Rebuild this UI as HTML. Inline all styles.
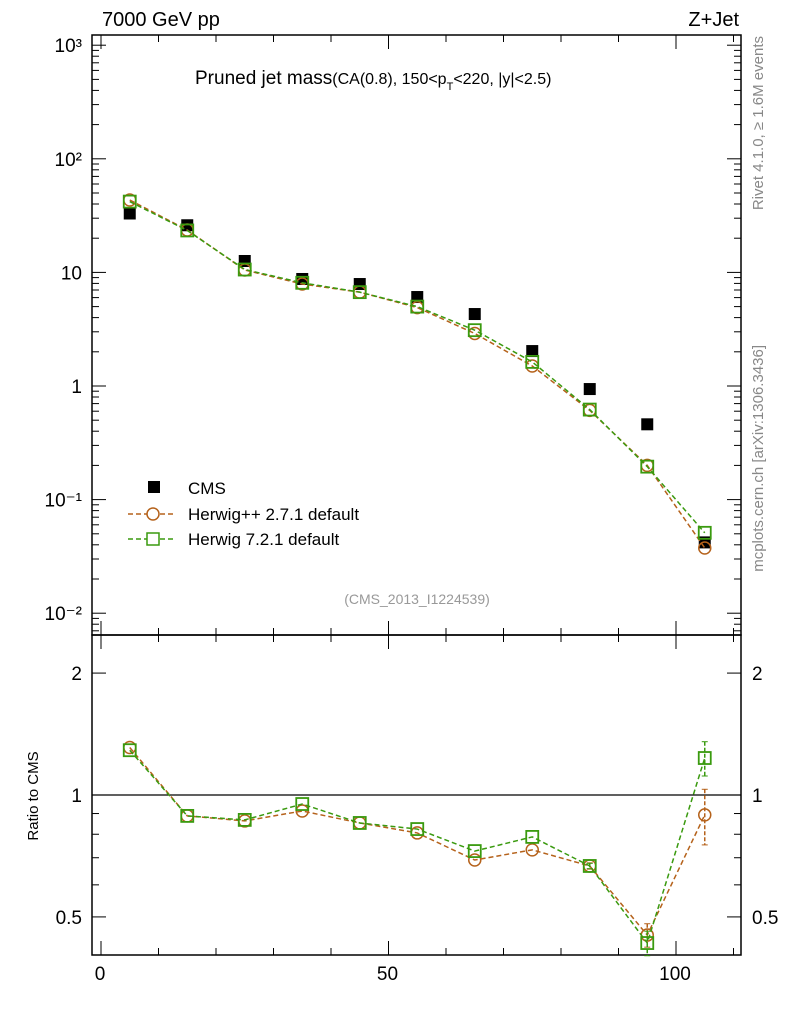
<!DOCTYPE html>
<html><head><meta charset="utf-8"><style>
body{margin:0;background:#fff}
svg{display:block;font-family:"Liberation Sans",sans-serif}
</style></head><body>
<svg id="chart" width="786" height="1024" xmlns="http://www.w3.org/2000/svg">
<g id="g"></g>
</svg>
<script>
const xs=[5,15,25,35,45,55,65,75,85,95,105];
const cms=[33,26,12.6,8.75,7.9,6.07,4.3,2.03,0.94,0.46,0.042];
const hpp=[43.4,23.6,10.5,7.9,6.7,4.9,2.9,1.5,0.61,0.2,0.0375];
const h7=[42,23.4,10.6,8.1,6.7,5.0,3.1,1.63,0.62,0.195,0.051];
const rHpp=[1.31,0.888,0.863,0.913,0.853,0.806,0.691,0.732,0.668,0.451,0.893];
const rH7=[1.29,0.888,0.868,0.95,0.853,0.824,0.727,0.788,0.668,0.431,1.234];
const rHppErr=[0,0,0,0,0,0,0,0,0.012,0.03,0.14];
const rH7Err=[0,0,0,0,0,0,0,0,0.01,0.03,0.12];
const mainTicks=[3,2,1,0,-1,-2];
const mainLabels=["10³","10²","10","1","10⁻¹","10⁻²"];
const ratioTicks=[2,1,0.5];
const xTicks=[0,50,100];

const NS="http://www.w3.org/2000/svg";
const g=document.getElementById('g');
function el(t,a,p){const e=document.createElementNS(NS,t);for(const k in a)e.setAttribute(k,a[k]);(p||g).appendChild(e);return e;}
const L=92,R=741,T=35,M=635,B=955;
const X=v=>101+v*5.75;
const Y=v=>386-Math.log10(v)*113.6;
const YR=v=>795-Math.log10(v)*405;

let f1=el('rect',{x:L,y:T,width:R-L,height:M-T,fill:'none',stroke:'#000','stroke-width':1.5});

let f2=el('rect',{x:L,y:M,width:R-L,height:B-M,fill:'none',stroke:'#000','stroke-width':1.5});


for(let d=-3;d<=3;d++){for(let m=1;m<10;m++){const v=m*Math.pow(10,d);const y=Y(v);if(y<T||y>M)continue;const len=m===1?14:7;
el('line',{x1:L,x2:L+len,y1:y,y2:y,stroke:'#000'});el('line',{x1:R,x2:R-len,y1:y,y2:y,stroke:'#000'});}}
mainTicks.forEach((d,i)=>{const t=el('text',{x:82,y:Y(Math.pow(10,d))+7,'text-anchor':'end','font-size':19});t.textContent=mainLabels[i];
});
[0.5,0.6,0.7,0.8,0.9,1,2].forEach(v=>{const y=YR(v);const len=(v===1||v===2||v===0.5)?14:7;
el('line',{x1:L,x2:L+len,y1:y,y2:y,stroke:'#000'});el('line',{x1:R,x2:R-len,y1:y,y2:y,stroke:'#000'});});
ratioTicks.forEach(v=>{[[82,'end'],[752,'start']].forEach(([x,a])=>{const t=el('text',{x:x,y:YR(v)+7,'text-anchor':a,'font-size':19});t.textContent=String(v);
});});
for(let v=0;v<=110;v+=10){const x=X(v);const len=v%50===0?14:7;
el('line',{x1:x,x2:x,y1:B,y2:B-len,stroke:'#000'});el('line',{x1:x,x2:x,y1:M,y2:M-len,stroke:'#000'});el('line',{x1:x,x2:x,y1:T,y2:T+len,stroke:'#000'});el('line',{x1:x,x2:x,y1:M,y2:M+len,stroke:'#000'});}
xTicks.forEach(v=>{const t=el('text',{x:X(v)-1,y:980,'text-anchor':'middle','font-size':19});t.textContent=String(v);
});
let rl=el('line',{x1:L,x2:R,y1:YR(1),y2:YR(1),stroke:'#000','stroke-width':1.2});


function series(vals,yf,col,shape,name,errs){
  const pts=xs.map((x,i)=>[X(x),yf(vals[i])]);
  if(errs)xs.forEach((x,i)=>{if(!errs[i])return;const y1=yf(vals[i]+errs[i]),y2=yf(Math.max(vals[i]-errs[i],0.01));
    const e=el('line',{x1:X(x),x2:X(x),y1:y1,y2:y2,stroke:col,'stroke-width':1.5,'stroke-dasharray':'4,2'});
    
    el('line',{x1:X(x)-3,x2:X(x)+3,y1:y1,y2:y1,stroke:col});el('line',{x1:X(x)-3,x2:X(x)+3,y1:y2,y2:y2,stroke:col});});
  const p=el('polyline',{points:pts.map(p=>p.join(',')).join(' '),fill:'none',stroke:col,'stroke-width':1.5,'stroke-dasharray':'5,3'});
  
  pts.forEach(([x,y])=>{let m;
    if(shape==='c')m=el('circle',{cx:x,cy:y,r:6,fill:'none',stroke:col,'stroke-width':1.5});
    else m=el('rect',{x:x-6,y:y-6,width:12,height:12,fill:'none',stroke:col,'stroke-width':1.8});
    });
}
xs.forEach((x,i)=>{const m=el('rect',{x:X(x)-6,y:Y(cms[i])-6,width:12,height:12,fill:'#000'});
});
series(hpp,Y,'#b5621b','c','herwigpp');
series(h7,Y,'#3a9a0f','s','herwig7');
series(rHpp,YR,'#b5621b','c','ratio-herwigpp',rHppErr);
series(rH7,YR,'#3a9a0f','s','ratio-herwig7',rH7Err);

let lm=el('rect',{x:148,y:481,width:12,height:12,fill:'#000'});
[['CMS',494,null],['Herwig++ 2.7.1 default',520,'#b5621b'],['Herwig 7.2.1 default',545,'#3a9a0f']].forEach(([t,y,c],i)=>{
 if(c){el('line',{x1:128,x2:176,y1:y-6,y2:y-6,stroke:c,'stroke-width':1.5,'stroke-dasharray':'5,3'});
  if(i===1)el('circle',{cx:153,cy:y-6,r:6,fill:'#fff',stroke:c,'stroke-width':1.5});else el('rect',{x:147,y:y-12,width:12,height:12,fill:'#fff',stroke:c,'stroke-width':1.5});}
 const tx=el('text',{x:188,y:y,'font-size':17});tx.textContent=t;});
</script>
<div style="position:absolute;left:0;top:0;width:786px;height:1024px;pointer-events:none">
<svg width="786" height="1024" style="font-family:'Liberation Sans',sans-serif">
<text x="102" y="26" font-size="20">7000 GeV pp</text>
<text x="739" y="26" font-size="20" text-anchor="end">Z+Jet</text>
<text x="195" y="84" font-size="19">Pruned jet mass<tspan font-size="16">(CA(0.8), 150&lt;p</tspan><tspan font-size="11" dy="6">T</tspan><tspan font-size="16" dy="-6">&lt;220, |y|&lt;2.5)</tspan></text>
<text x="417" y="604" font-size="14" fill="#999" text-anchor="middle">(CMS_2013_I1224539)</text>
<text transform="translate(763,36) rotate(-90)" font-size="15" fill="#888" text-anchor="end">Rivet 4.1.0, ≥ 1.6M events</text>
<text transform="translate(763,345) rotate(-90)" font-size="15" fill="#888" text-anchor="end">mcplots.cern.ch [arXiv:1306.3436]</text>
<text transform="translate(38,796) rotate(-90)" font-size="15" text-anchor="middle">Ratio to CMS</text>
</svg></div>
</body></html>
